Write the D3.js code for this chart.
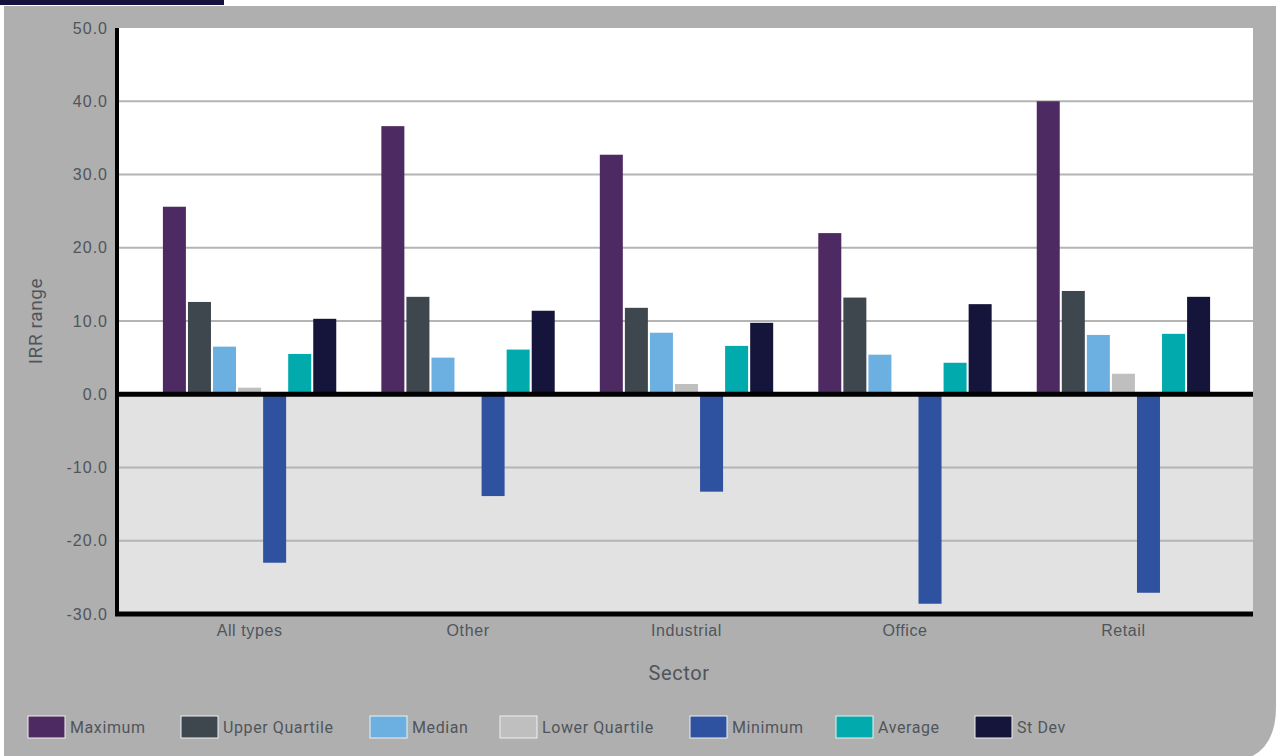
<!DOCTYPE html>
<html>
<head>
<meta charset="utf-8">
<script src="https://cdn.jsdelivr.net/npm/d3@7"></script>
<style>
  html, body { margin: 0; padding: 0; background: #ffffff; }
  svg { display: block; font-family: Roboto, "Noto Sans", sans-serif; }
</style>
</head>
<body>
<svg id="chart" width="1281" height="756"></svg>
<script>
// ---- data ----
const categories = ["All types", "Other", "Industrial", "Office", "Retail"];
const seriesNames = ["Maximum", "Upper Quartile", "Median", "Lower Quartile", "Minimum", "Average", "St Dev"];
const maximum       = [25.6, 36.6, 32.7, 22.0, 40.0];
const upperQuartile = [12.6, 13.3, 11.8, 13.2, 14.1];
const median        = [6.5, 5.0, 8.4, 5.4, 8.1];
const lowerQuartile = [0.9, 0.0, 1.4, 0.0, 2.8];
const minimum       = [-23.0, -13.9, -13.3, -28.6, -27.1];
const average       = [5.5, 6.1, 6.6, 4.3, 8.25];
const stDev         = [10.3, 11.4, 9.75, 12.3, 13.3];
const yTicks = [-30, -20, -10, 0, 10, 20, 30, 40, 50];
const seriesColors = ["#4e2a63", "#3e464e", "#6cb0e2", "#bfbfbf", "#2e52a0", "#00aaad", "#15143b"];

const seriesValues = [maximum, upperQuartile, median, lowerQuartile, minimum, average, stDev];

(function () {
const svg = d3.select("#chart");

// panel background with rounded bottom-right corner
const px0 = 4, py0 = 6, px1 = 1276, py1 = 763, r = 56;
svg.append("path")
  .attr("d", `M${px0},${py0} L${px1},${py0} L${px1},${py1 - r} Q${px1},${py1} ${px1 - r},${py1} L${px0},${py1} Z`)
  .attr("fill", "#afafaf");
// navy top bar
svg.append("rect").attr("x", 0).attr("y", 0).attr("width", 224).attr("height", 5).attr("fill", "#14133d");

// plot area
const pLeft = 117, pRight = 1253, pTop = 28, pBottom = 614;
const y = d3.scaleLinear().domain([-30, 50]).range([pBottom, pTop]);
const x0 = d3.scaleBand().domain(categories).range([pLeft + 1.5, pRight + 1.5]).paddingInner(0).paddingOuter(0.1);
const x1 = d3.scaleBand().domain(seriesNames).range([0, x0.bandwidth()]).paddingInner(0.082).paddingOuter(0.9);

svg.append("rect").attr("x", pLeft).attr("y", pTop).attr("width", pRight - pLeft).attr("height", y(0) - pTop).attr("fill", "#ffffff");
svg.append("rect").attr("x", pLeft).attr("y", y(0)).attr("width", pRight - pLeft).attr("height", pBottom - y(0)).attr("fill", "#e2e2e2");

// gridlines
svg.append("g").selectAll("line")
  .data(yTicks.filter(t => t !== 0 && t !== -30 && t !== 50))
  .join("line")
  .attr("x1", pLeft).attr("x2", pRight)
  .attr("y1", d => y(d)).attr("y2", d => y(d))
  .attr("stroke", "#b4b4b4").attr("stroke-width", 2);

// bars
const flat = [];
categories.forEach((c, ci) => {
  seriesNames.forEach((s, si) => {
    flat.push({ cat: c, series: s, value: seriesValues[si][ci], color: seriesColors[si] });
  });
});
svg.append("g").selectAll("rect")
  .data(flat)
  .join("rect")
  .attr("x", d => x0(d.cat) + x1(d.series))
  .attr("width", x1.bandwidth())
  .attr("y", d => y(Math.max(0, d.value)))
  .attr("height", d => Math.abs(y(d.value) - y(0)))
  .attr("fill", d => d.color);

// zero line and axis lines
svg.append("line").attr("x1", pLeft - 2).attr("x2", pRight).attr("y1", y(0)).attr("y2", y(0))
  .attr("stroke", "#000").attr("stroke-width", 5);
svg.append("line").attr("x1", pLeft - 2).attr("x2", pRight).attr("y1", pBottom).attr("y2", pBottom)
  .attr("stroke", "#000").attr("stroke-width", 5);
svg.append("line").attr("x1", pLeft).attr("x2", pLeft).attr("y1", pTop).attr("y2", pBottom + 2)
  .attr("stroke", "#000").attr("stroke-width", 4);

// y axis labels
const yAxis = d3.axisLeft(y).tickValues(yTicks).tickFormat(d => d3.format(".1f")(d).replace("\u2212", "-")).tickSize(0).tickPadding(8);
const yg = svg.append("g").attr("transform", `translate(${pLeft - 1},0)`).call(yAxis);
yg.select(".domain").remove();
yg.selectAll("text").attr("fill", "#50555c").style("font-size", "16px").style("letter-spacing", "1px");

// x axis labels
const xAxis = d3.axisBottom(x0).tickSize(0).tickPadding(11);
const xg = svg.append("g").attr("transform", `translate(0,${pBottom})`).call(xAxis);
xg.select(".domain").remove();
xg.selectAll("text").attr("fill", "#50555c").style("font-size", "16px").style("letter-spacing", "0.6px");

// axis titles
svg.append("text").attr("x", 679).attr("y", 680).attr("text-anchor", "middle")
  .attr("fill", "#50555c").style("font-size", "20px").style("letter-spacing", "0.6px").text("Sector");
svg.append("text").attr("transform", `translate(42,${(pTop + pBottom) / 2}) rotate(-90)`).attr("text-anchor", "middle")
  .attr("fill", "#50555c").style("font-size", "19px").style("letter-spacing", "0.6px").text("IRR range");

// legend
const legendX = [28, 181, 370, 500, 690, 836, 975];
const lg = svg.append("g").selectAll("g").data(seriesNames).join("g")
  .attr("transform", (d, i) => `translate(${legendX[i]},716)`);
lg.append("rect").attr("width", 37).attr("height", 22)
  .attr("fill", (d, i) => seriesColors[i]).attr("stroke", "#f0f0f0").attr("stroke-width", 1);
lg.append("text").attr("x", 42).attr("y", 17).attr("fill", "#50555c").style("font-size", "16px")
  .style("letter-spacing", "0.6px").text(d => d);
})();
</script>
</body>
</html>
